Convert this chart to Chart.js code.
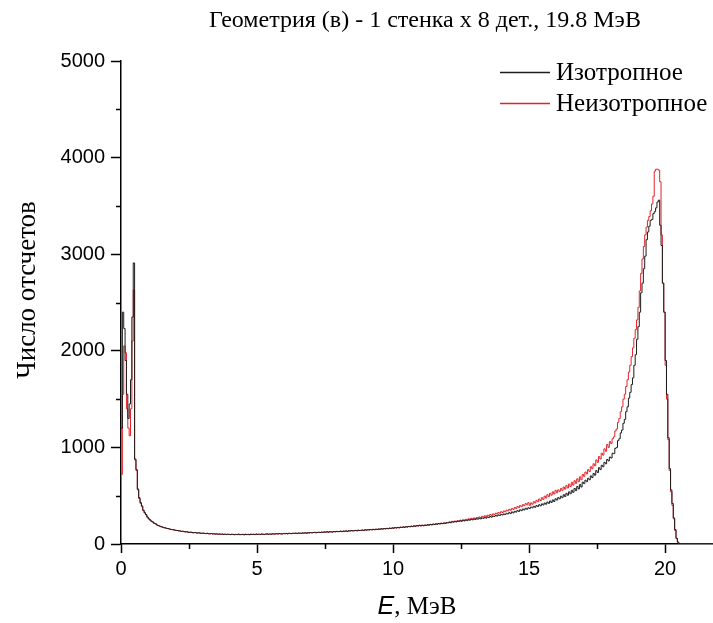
<!DOCTYPE html>
<html>
<head>
<meta charset="utf-8">
<script src="https://cdn.jsdelivr.net/npm/chart.js@4"></script>
<style>
  html, body { margin: 0; padding: 0; background: #fff; }
  #wrap { width: 713px; height: 623px; }
</style>
</head>
<body>
<div id="wrap"><canvas id="spectrum" width="713" height="623"></canvas></div>
<script>
// Гистограмма: ширина бина 0.05 МэВ, отсчёты с левого края бина
const BIN_WIDTH = 0.05;
const X_MAX = 21.76;

const xTickValues = [0, 5, 10, 15, 20];
const xMinorTicks = [2.5, 7.5, 12.5, 17.5];
const yTickValues = [0, 1000, 2000, 3000, 4000, 5000];
const yMinorTicks = [500, 1500, 2500, 3500, 4500];

const seriesNames = ['Изотропное', 'Неизотропное'];
const seriesColors = ['#1c1c1c', '#e0242c'];

// Изотропное (черная)
const isoCounts = [
  1200, 2400, 2230, 1900, 1550, 1300, 1450, 1700, 2350, 2910, 880, 770, 570, 480, 430, 395, 350, 325, 305, 280,
  262, 250, 236, 228, 215, 210, 198, 192, 186, 180, 176, 170, 168, 163, 160, 157, 152, 150, 148, 145,
  142, 140, 137, 136, 131, 133, 128, 126, 127, 122, 121, 123, 118, 117, 119, 115, 114, 116, 112, 111,
  113, 110, 108, 111, 107, 106, 109, 104, 106, 103, 105, 102, 104, 101, 103, 100, 102, 99, 101, 100,
  98, 101, 99, 97, 100, 98, 102, 97, 99, 100, 96, 101, 98, 100, 97, 102, 99, 101, 98, 103,
  100, 102, 99, 104, 101, 100, 103, 105, 101, 104, 102, 106, 103, 105, 107, 104, 108, 106, 104, 109,
  107, 110, 106, 111, 109, 108, 112, 110, 113, 109, 114, 112, 111, 115, 113, 116, 112, 117, 115, 118,
  116, 119, 121, 117, 120, 122, 119, 124, 121, 125, 123, 127, 122, 128, 126, 124, 129, 127, 131, 128,
  130, 133, 129, 134, 132, 136, 131, 137, 135, 139, 136, 138, 141, 137, 143, 140, 142, 145, 141, 147,
  144, 148, 146, 150, 147, 152, 149, 154, 151, 156, 153, 158, 155, 160, 157, 162, 159, 165, 161, 167,
  164, 170, 166, 172, 168, 175, 171, 177, 173, 180, 176, 182, 179, 185, 181, 188, 184, 191, 187, 194,
  188, 194, 190, 196, 192, 199, 195, 202, 198, 205, 201, 208, 204, 211, 207, 214, 210, 217, 213, 220,
  218, 224, 220, 229, 226, 233, 228, 236, 232, 240, 235, 243, 238, 247, 242, 251, 246, 255, 250, 258,
  253, 262, 257, 266, 260, 270, 265, 275, 268, 280, 273, 285, 278, 290, 284, 296, 289, 302, 295, 306,
  300, 312, 305, 318, 311, 325, 316, 332, 322, 339, 330, 346, 337, 354, 345, 362, 352, 370, 360, 375,
  368, 382, 375, 390, 380, 398, 388, 406, 395, 415, 404, 424, 412, 434, 421, 445, 430, 456, 440, 468,
  455, 480, 468, 495, 480, 510, 492, 525, 505, 540, 520, 556, 535, 575, 552, 595, 570, 615, 590, 640,
  625, 660, 645, 680, 665, 705, 688, 730, 712, 760, 740, 790, 770, 815, 800, 845, 830, 875, 860, 900,
  890, 940, 935, 990, 1000, 1070, 1090, 1150, 1180, 1250, 1290, 1370, 1420, 1510, 1570, 1650, 1720, 1850, 1960, 2120,
  2250, 2400, 2600, 2700, 2850, 2980, 3150, 3230, 3290, 3350, 3360, 3420, 3440, 3480, 3540, 3560, 3300, 3090, 2700, 2400,
  1900, 1550, 1100, 780, 560, 420, 270, 150, 60, 20, 5, 0
];

// Неизотропное (красная)
const anisoCounts = [
  720, 1550, 2050, 1980, 1400, 1200, 1120, 1400, 2100, 2630, 870, 760, 560, 470, 420, 385, 345, 320, 300, 275,
  258, 246, 232, 225, 212, 207, 196, 190, 184, 178, 174, 169, 166, 161, 159, 155, 151, 149, 146, 143,
  140, 138, 135, 134, 130, 131, 127, 125, 126, 121, 120, 122, 117, 116, 118, 114, 113, 115, 111, 110,
  112, 109, 107, 110, 106, 105, 108, 103, 105, 102, 104, 101, 103, 100, 102, 99, 101, 98, 100, 99,
  97, 100, 98, 96, 99, 97, 101, 96, 98, 99, 95, 100, 97, 99, 96, 101, 98, 100, 97, 102,
  99, 101, 98, 103, 100, 99, 102, 104, 100, 103, 101, 105, 102, 104, 106, 103, 107, 105, 103, 108,
  106, 109, 105, 110, 108, 107, 111, 109, 112, 108, 113, 111, 110, 114, 112, 115, 111, 116, 114, 117,
  115, 118, 120, 116, 119, 121, 118, 123, 120, 124, 122, 126, 121, 127, 125, 123, 128, 126, 130, 127,
  129, 132, 128, 133, 131, 135, 130, 136, 134, 138, 135, 137, 140, 136, 142, 139, 141, 144, 140, 146,
  143, 147, 145, 149, 146, 151, 148, 153, 150, 155, 152, 157, 154, 159, 156, 161, 158, 164, 160, 166,
  163, 169, 165, 171, 167, 174, 170, 176, 172, 179, 175, 181, 178, 184, 180, 187, 183, 190, 186, 193,
  187, 195, 189, 197, 193, 200, 196, 204, 199, 207, 203, 210, 206, 213, 209, 216, 212, 219, 215, 222,
  222, 229, 226, 234, 230, 238, 234, 242, 238, 247, 242, 251, 246, 256, 251, 261, 256, 266, 260, 270,
  264, 274, 269, 280, 274, 286, 280, 292, 285, 298, 291, 305, 297, 312, 304, 319, 311, 327, 318, 334,
  326, 342, 334, 350, 342, 359, 350, 368, 358, 378, 367, 388, 376, 398, 386, 408, 396, 418, 406, 428,
  400, 425, 412, 438, 425, 452, 438, 466, 450, 480, 462, 495, 476, 510, 490, 525, 505, 540, 518, 555,
  530, 560, 545, 575, 555, 590, 568, 605, 580, 620, 595, 638, 610, 655, 628, 675, 645, 695, 665, 720,
  700, 745, 725, 770, 750, 800, 780, 830, 810, 870, 845, 905, 880, 940, 920, 985, 960, 1030, 1000, 1060,
  1040, 1090, 1110, 1170, 1190, 1260, 1300, 1370, 1420, 1500, 1550, 1630, 1700, 1780, 1850, 1940, 2030, 2130, 2220, 2320,
  2450, 2620, 2800, 2950, 3080, 3200, 3280, 3350, 3390, 3450, 3520, 3600, 3860, 3880, 3880, 3870, 3750, 3200, 2700, 2400,
  1850, 1500, 1080, 760, 540, 400, 260, 140, 55, 18, 4, 0
];

// бины -> точки {x, y}, в конце ноль до края оси
const toPoints = (counts) => {
  const pts = counts.map((c, i) => ({ x: +(i * BIN_WIDTH).toFixed(2), y: c }));
  pts.push({ x: X_MAX, y: 0 });
  return pts;
};

// подписи, легенда и малые засечки рисуем сами
const decorPlugin = {
  id: 'decor',
  afterDraw(chart) {
    const ctx = chart.ctx;
    const xs = chart.scales.x, ys = chart.scales.y;
    const area = chart.chartArea;
    ctx.save();
    ctx.fillStyle = '#000';
    ctx.strokeStyle = '#000';

    // малые засечки
    ctx.lineWidth = 1.5;
    ctx.beginPath();
    xMinorTicks.forEach(v => {
      const px = Math.round(xs.getPixelForValue(v)) + 0.5;
      ctx.moveTo(px, area.bottom);
      ctx.lineTo(px, area.bottom + 5);
    });
    yMinorTicks.forEach(v => {
      const py = Math.round(ys.getPixelForValue(v)) + 0.5;
      ctx.moveTo(area.left, py);
      ctx.lineTo(area.left - 5, py);
    });
    ctx.stroke();

    // заголовок
    ctx.textBaseline = 'middle';
    ctx.textAlign = 'center';
    ctx.font = '24px "Liberation Serif"';
    ctx.fillText('Геометрия (в) - 1 стенка х 8 дет., 19.8 МэВ', (area.left + area.right) / 2 + 8, 21);

    // легенда
    ctx.textAlign = 'left';
    ctx.font = '25px "Liberation Serif"';
    const rows = [72, 103];
    seriesNames.forEach((name, i) => {
      ctx.strokeStyle = seriesColors[i];
      ctx.lineWidth = 1.3;
      ctx.beginPath();
      ctx.moveTo(500, rows[i] + 0.5);
      ctx.lineTo(550, rows[i] + 0.5);
      ctx.stroke();
      ctx.fillText(name, 556, rows[i] + 1);
    });

    // ось Y
    ctx.save();
    ctx.translate(28, 290);
    ctx.rotate(-Math.PI / 2);
    ctx.textAlign = 'center';
    ctx.font = '27px "Liberation Serif"';
    ctx.fillText('Число отсчетов', 0, 0);
    ctx.restore();

    // ось X: "E" курсивом, ", МэВ" антиквой
    const partE = 'E', partU = ', МэВ';
    ctx.font = 'italic 25px "Liberation Sans"';
    const wE = ctx.measureText(partE).width;
    ctx.font = '25px "Liberation Serif"';
    const wU = ctx.measureText(partU).width;
    const x0 = (area.left + area.right) / 2 - (wE + wU) / 2;
    ctx.textAlign = 'left';
    ctx.textBaseline = 'alphabetic';
    ctx.font = 'italic 25px "Liberation Sans"';
    ctx.fillText(partE, x0, 614);
    ctx.font = '25px "Liberation Serif"';
    ctx.fillText(partU, x0 + wE, 614);
    ctx.restore();
  }
};

const ctx = document.getElementById('spectrum').getContext('2d');
new Chart(ctx, {
  type: 'line',
  data: {
    datasets: [
      {
        label: seriesNames[0],
        data: toPoints(isoCounts),
        borderColor: seriesColors[0],
        borderWidth: 1,
        stepped: true,
        pointRadius: 0,
        fill: false
      },
      {
        label: seriesNames[1],
        data: toPoints(anisoCounts),
        borderColor: seriesColors[1],
        borderWidth: 1,
        stepped: true,
        pointRadius: 0,
        fill: false
      }
    ]
  },
  options: {
    responsive: false,
    animation: false,
    parsing: false,
    layout: { padding: { top: 61, right: 0, left: 0, bottom: 0 } },
    plugins: {
      legend: { display: false },
      title: { display: false },
      tooltip: { enabled: false }
    },
    scales: {
      x: {
        type: 'linear',
        min: 0,
        max: X_MAX,
        afterBuildTicks: (scale) => { scale.ticks = xTickValues.map(v => ({ value: v })); },
        afterFit: (scale) => { scale.height = 79; },
        grid: { drawOnChartArea: false, tickLength: 9, tickColor: '#000', tickWidth: 1.5 },
        border: { display: true, color: '#000', width: 1.5 },
        ticks: {
          color: '#000',
          padding: 4,
          maxRotation: 0,
          font: { family: '"Liberation Sans"', size: 20 },
          callback: (v) => String(v)
        }
      },
      y: {
        min: 0,
        max: 5000,
        afterBuildTicks: (scale) => { scale.ticks = yTickValues.map(v => ({ value: v })); },
        afterFit: (scale) => { scale.width = 121; },
        grid: { drawOnChartArea: false, tickLength: 10, tickColor: '#000', tickWidth: 1.5 },
        border: { display: true, color: '#000', width: 1.5 },
        ticks: {
          color: '#000',
          padding: 6,
          font: { family: '"Liberation Sans"', size: 20 },
          callback: (v) => String(v)
        }
      }
    }
  },
  plugins: [decorPlugin]
});
</script>
</body>
</html>
